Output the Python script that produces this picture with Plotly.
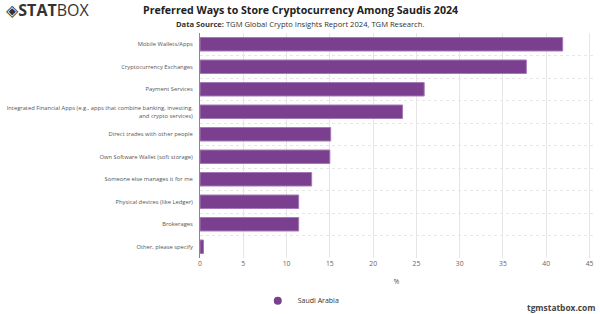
import plotly.graph_objects as go

categories = [
    "Mobile Wallets/Apps",
    "Cryptocurrency Exchanges",
    "Payment Services",
    "Integrated Financial Apps (e.g., apps that combine banking, investing,<br>and crypto services)",
    "Direct trades with other people",
    "Own Software Wallet (soft storage)",
    "Someone else manages it for me",
    "Physical devices (like Ledger)",
    "Brokerages",
    "Other, please specify",
]
values = [41.9, 37.7, 25.9, 23.4, 15.1, 15.0, 12.9, 11.4, 11.4, 0.4]
series_name = "Saudi Arabia"
x_ticks = [0, 5, 10, 15, 20, 25, 30, 35, 40, 45]

purple = "#7a3f8e"
font = "Open Sans, DejaVu Sans, sans-serif"
idx = list(range(len(categories)))

fig = go.Figure()
fig.add_trace(go.Bar(
    x=values, y=idx, orientation="h",
    marker=dict(color=purple, line=dict(color="#a57bb5", width=1)),
    width=0.6, showlegend=False, name=series_name,
))
fig.add_trace(go.Scatter(
    x=[None], y=[None], mode="markers", name=series_name,
    marker=dict(color=purple, size=8, symbol="circle"),
))

page_center = (300 - 200) / (600 - 200 - 7)

fig.update_layout(
    width=600, height=314,
    margin=dict(l=200, r=7, t=33, b=56, autoexpand=False),
    paper_bgcolor="white", plot_bgcolor="white",
    font=dict(family=font, size=7, color="#555"),
    xaxis=dict(
        range=[0, 45.4], tickvals=x_ticks, showgrid=True, gridcolor="#e6e6e6",
        gridwidth=1, zeroline=False, showline=False, automargin=False,
        ticks="", tickfont=dict(size=6.8, color="#666"),
        title=dict(text="%", font=dict(size=7, color="#555"), standoff=12),
    ),
    yaxis=dict(
        tickvals=idx, ticktext=categories, range=[len(categories) - 0.5, -0.5],
        showgrid=False, zeroline=False, showline=True, linecolor="#888", linewidth=1,
        automargin=False,
        ticks="", ticklabelstandoff=5, tickfont=dict(size=5.8, color="#555"),
        minor=dict(tick0=0.5, dtick=1, showgrid=True, gridcolor="#e6e6e6",
                   griddash="dot", gridwidth=1, ticks=""),
    ),
    legend=dict(orientation="h", x=0.147, xanchor="left", y=-0.19, yanchor="middle",
                font=dict(size=7, color="#333"), itemwidth=30),
    annotations=[
        dict(text="<b>Preferred Ways to Store Cryptocurrency Among Saudis 2024</b>",
             x=page_center, xref="paper", xanchor="center",
             y=1.102, yref="paper", yanchor="middle", showarrow=False,
             font=dict(family=font, size=10.6, color="#222")),
        dict(text="<b>Data Source:</b> TGM Global Crypto Insights Report 2024, TGM Research.",
             x=page_center, xref="paper", xanchor="center",
             y=1.04, yref="paper", yanchor="middle", showarrow=False,
             font=dict(family=font, size=7.6, color="#333")),
        dict(text="<b>◈STAT</b>BOX", x=0, xref="paper", xanchor="left", y=1.10,
             yref="paper", yanchor="middle", xshift=-196, showarrow=False,
             font=dict(family=font, size=16, color="#333")),
        dict(text="<b>tgmstatbox.com</b>", x=1, xref="paper", xanchor="right",
             y=-0.218, yref="paper", yanchor="middle", xshift=5, showarrow=False,
             font=dict(family=font, size=8.4, color="#444")),
    ],
)

fig.write_html("out.html")
